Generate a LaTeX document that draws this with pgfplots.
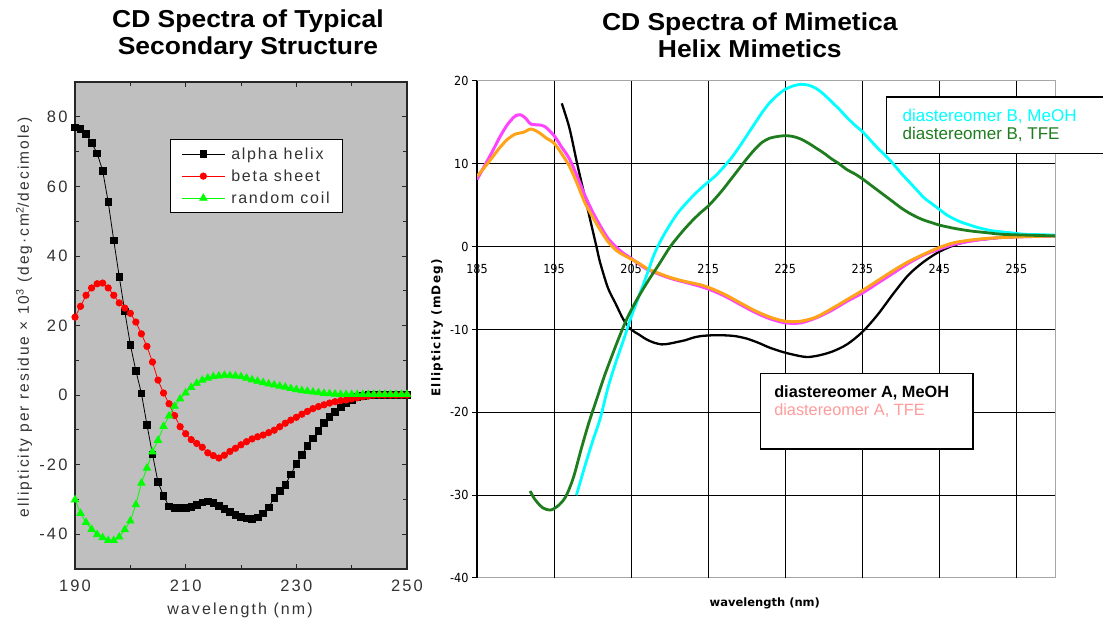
\documentclass[border=0pt]{standalone}
\usepackage{fontspec}
\usepackage{pgfplots}
\pgfplotsset{compat=1.18}
\setmainfont{Liberation Sans}
\newfontfamily\titlefont[FakeStretch=1.08]{Liberation Sans}
\newfontfamily\lfont[LetterSpace=13]{Liberation Sans}
\newfontfamily\lgfont[LetterSpace=11]{Liberation Sans}
\newfontfamily\rfont[FakeStretch=0.9]{DejaVu Sans}
\newfontfamily\rlabfont{DejaVu Sans}
\newfontfamily\rylabfont[LetterSpace=10]{DejaVu Sans}
\definecolor{bcyan}{HTML}{00FFFF}
\definecolor{bgreen}{HTML}{1E7D1E}
\definecolor{amag}{HTML}{FF44FF}
\definecolor{aorange}{HTML}{FFA31A}
\definecolor{apink}{HTML}{FF9B9B}
\definecolor{lgreen}{HTML}{00FF00}

\begin{document}
\begin{tikzpicture}
\useasboundingbox (0,0) rectangle (1103pt,621pt);

% ---------------- left chart ----------------
\begin{axis}[
  at={(75pt,52pt)}, anchor=south west,
  width=332pt, height=487pt, scale only axis,
  xmin=190, xmax=250, ymin=-50, ymax=90,
  xtick={190,210,230,250}, minor xtick={200,220,240},
  ytick={-40,-20,...,80}, minor ytick={-50,-30,...,90},
  tick align=inside, major tick length=5pt, minor tick length=4pt,
  every tick/.style={black!85, line width=0.8pt},
  axis line style={black!85, line width=1.3pt},
  axis background/.style={fill=black!25},
  /pgf/number format/assume math mode=true,
  tick label style={font=\lfont\fontsize{16.5}{19}\selectfont, text=black!80},
  xticklabel style={yshift=-7pt},
  yticklabel style={xshift=-4pt},
  title={CD Spectra of Typical\\Secondary Structure},
  title style={at={(rel axis cs:0.521,1.0842)}, anchor=center, align=center,
    font=\titlefont\bfseries\fontsize{24.5}{27}\selectfont},
  xlabel={wavelength (nm)},
  xlabel style={at={(rel axis cs:0.497,-0.084)}, anchor=center,
    font=\lfont\fontsize{16}{18}\selectfont, text=black!80},
  ylabel={ellipticity per residue × 10\textsuperscript{3} (deg·cm\textsuperscript{2}/decimole)},
  ylabel style={at={(rel axis cs:-0.1536,0.5164)}, anchor=center,
    font=\lfont\fontsize{15.5}{18}\selectfont, text=black!80},
  legend style={at={(rel axis cs:0.286,0.883)}, anchor=north west,
    draw=black, line width=1pt, fill=white,
    font=\lgfont\fontsize{16}{19}\selectfont, text=black!80,
    inner xsep=11pt, inner ysep=6pt, row sep=5pt},
  legend cell align=left,
  legend image code/.code={\draw[mark repeat=2,mark phase=2,#1]
    plot coordinates {(0pt,0pt) (21.5pt,0pt) (43pt,0pt)};
    \path (47pt,0pt);},
]
\addplot[black, line width=0.8pt, mark=square*, mark size=3.3pt] coordinates {
(190,77) (191,76.5) (192,75) (193,72.5) (194,69.5) (195,64.5) (196,55.5) (197,44.5)
(198,34) (199,24) (200,14.5) (201,7) (202,0.5) (203,-8.5) (204,-17) (205,-25)
(206,-29) (207,-32) (208,-32.5) (209,-32.5) (210,-32.5) (211,-32.2) (212,-31.5)
(213,-30.8) (214,-30.6) (215,-31) (216,-31.8) (217,-32.7) (218,-33.6) (219,-34.4)
(220,-35) (221,-35.5) (222,-35.6) (223,-35.2) (224,-34) (225,-32.3) (226,-29.5)
(227,-27.5) (228,-25.8) (229,-22.8) (230,-19.8) (231,-17.2) (232,-14.6) (233,-12.4)
(234,-10.3) (235,-8) (236,-6.2) (237,-4.8) (238,-3.5) (239,-2.3) (240,-1.4)
(241,-0.6) (242,-0.2) (243,0) (244,0) (245,0) (246,0) (247,0) (248,0) (249,0) (250,0)};
\addlegendentry{alpha helix}
\addplot[red, line width=0.8pt, mark=*, mark size=3.2pt] coordinates {
(190,22.4) (191,25.5) (192,28.7) (193,30.8) (194,32) (195,32.2) (196,30.8) (197,28.7)
(198,26.5) (199,25) (200,23.5) (201,21) (202,17.6) (203,14) (204,9.5) (205,4.3)
(206,0.6) (207,-2.5) (208,-5.9) (209,-9.1) (210,-11.1) (211,-12.8) (212,-13.9)
(213,-15) (214,-16.6) (215,-17.4) (216,-18.1) (217,-17.3) (218,-16.2) (219,-15.3)
(220,-14.3) (221,-13.4) (222,-12.6) (223,-12) (224,-11.5) (225,-10.8) (226,-10.1)
(227,-9.1) (228,-8.1) (229,-7.2) (230,-6.4) (231,-5.5) (232,-4.7) (233,-3.9)
(234,-3.3) (235,-2.8) (236,-2.3) (237,-1.9) (238,-1.6) (239,-1.4) (240,-1.1)
(241,-0.8) (242,-0.5) (243,-0.3) (244,0) (245,0) (246,0) (247,0) (248,0) (249,0) (250,0)};
\addlegendentry{beta sheet}
\addplot[lgreen, line width=0.8pt, mark=triangle*, mark size=4.2pt] coordinates {
(190,-30.1) (191,-34) (192,-36.6) (193,-38.6) (194,-40.1) (195,-41) (196,-41.8)
(197,-41.8) (198,-40.8) (199,-38.7) (200,-36.2) (201,-31.5) (202,-25.3) (203,-21)
(204,-16.3) (205,-13) (206,-9) (207,-6) (208,-3.2) (209,-1.1) (210,0.6) (211,2.2)
(212,3.4) (213,4.3) (214,4.9) (215,5.3) (216,5.5) (217,5.7) (218,5.6) (219,5.5)
(220,5.3) (221,4.9) (222,4.4) (223,4) (224,3.6) (225,3.2) (226,2.9) (227,2.6)
(228,2.3) (229,1.9) (230,1.6) (231,1.3) (232,1.1) (233,0.9) (234,0.7) (235,0.5)
(236,0.4) (237,0.3) (238,0.2) (239,0.2) (240,0.2) (241,0.2) (242,0.2) (243,0.2)
(244,0.2) (245,0.2) (246,0.2) (247,0.2) (248,0.2) (249,0.2) (250,0.2)};
\addlegendentry{random coil}
\end{axis}

% ---------------- right chart: grid, A curves ----------------
\begin{axis}[
  at={(477pt,43pt)}, anchor=south west,
  width=578pt, height=497pt, scale only axis,
  xmin=185, xmax=260, ymin=-40, ymax=20,
  axis x line=middle, axis y line=left,
  x axis line style={-, black, line width=1.1pt},
  y axis line style={-, black, line width=1.5pt},
  xtick={185,195,...,255},
  ytick={-30,-20,...,10}, extra y ticks={-40,20}, extra y tick style={grid=none},
  hide obscured x ticks=false, hide obscured y ticks=false,
  xmajorgrids, ymajorgrids, major grid style={black, line width=1.1pt},
  axis background/.style={draw=black!35, line width=1pt},
  ytick align=outside, major tick length=5pt,
  xtick style={draw=none}, ytick style={black, line width=1pt},
  /pgf/number format/assume math mode=true,
  tick label style={font=\rfont\fontsize{12.5}{14}\selectfont},
  xticklabel style={yshift=-12pt},
  title={CD Spectra of Mimetica\\Helix Mimetics},
  title style={at={(rel axis cs:0.472,1.0805)}, anchor=center, align=center,
    font=\titlefont\bfseries\fontsize{24.5}{27}\selectfont},
  xlabel={wavelength (nm)},
  xlabel style={at={(rel axis cs:0.498,-0.0503)}, anchor=center,
    font=\rlabfont\bfseries\fontsize{11.5}{14}\selectfont},
  ylabel={Ellipticity (mDeg)},
  ylabel style={at={(rel axis cs:-0.0692,0.503)}, anchor=center,
    font=\rylabfont\bfseries\fontsize{12}{14}\selectfont},
  legend style={at={(rel axis cs:0.4888,0.4125)}, anchor=north west,
    draw=black, line width=1.5pt, fill=white,
    font=\fontsize{16.3}{19}\selectfont,
    inner xsep=12pt, inner ysep=10pt, row sep=1pt},
  legend cell align=left,
  legend image code/.code={},
]
\addplot[black, line width=2.3pt, smooth] coordinates {
(196,17.3) (197,14.3) (198,10) (199,6) (200,2) (200.5,0) (201,-2) (202,-5)
(203,-6.9) (204,-8.8) (205,-10) (206,-10.6) (207,-11.2) (208,-11.6) (209,-11.8)
(210,-11.7) (211,-11.5) (212,-11.3) (213,-11) (214,-10.8) (215.5,-10.7) (217,-10.7)
(218.5,-10.8) (220,-11.1) (221.5,-11.6) (223,-12.2) (225,-12.8) (227.5,-13.3)
(229,-13.2) (231,-12.7) (233,-11.8) (235,-10.3) (237,-8.2) (239,-5.7) (241,-3.4)
(243,-1.8) (245,-0.6) (247,0.2) (249,0.7) (251,0.9) (253,1.1) (255,1.2) (260,1.3)};
\addlegendentry{\bfseries diastereomer A, MeOH\rule{10pt}{0pt}}
\addplot[amag, line width=3pt, smooth] coordinates {
(185,8.1) (186,9.8) (187,11.5) (188,13.3) (189,14.8) (190,15.8) (190.7,15.9)
(191.3,15.5) (192,14.8) (193,14.7) (193.8,14.5) (195,13.4) (196,12) (197,10.6)
(198,8.5) (199,6.2) (200,4.2) (201,2.5) (202,1) (203,0) (204,-0.8) (205,-1.4)
(206,-2.1) (207,-2.7) (208,-3.1) (210,-3.8) (212,-4.3) (214,-4.8) (215,-5.1)
(217,-5.9) (219,-6.9) (221,-7.9) (223,-8.7) (225,-9.2) (227,-9.2) (229,-8.6)
(231,-7.7) (233,-6.6) (235,-5.6) (237,-4.4) (239,-3.2) (241,-2) (243,-1)
(245,-0.3) (247,0.3) (250,0.8) (253,1.1) (256,1.2) (260,1.3)};
\addlegendentry{\textcolor{apink}{diastereomer A, TFE}}
\addplot[aorange, line width=3pt, smooth, forget plot] coordinates {
(185,8.5) (186,9.6) (187,10.8) (188,12) (189,13) (190,13.6) (191,13.8) (192,14.2)
(193,13.8) (194,13.1) (195,12.5) (196,11.2) (197,9.7) (198,7.6) (199,5.3) (200,3.6)
(201,2) (202,0.6) (203,-0.4) (204,-1) (205,-1.5) (206,-2) (207,-2.6) (208,-3)
(210,-3.7) (212,-4.2) (214,-4.6) (215,-4.9) (217,-5.7) (219,-6.7) (221,-7.7)
(223,-8.5) (225,-9) (227,-9) (229,-8.5) (231,-7.5) (233,-6.4) (235,-5.3) (237,-4.1)
(239,-2.9) (241,-1.8) (243,-0.9) (245,-0.1) (247,0.5) (250,0.9) (253,1.1) (256,1.2) (260,1.3)};
\addlegendimage{empty legend}
\addlegendentry{\strut}
\end{axis}

% ---------------- right chart: B curves ----------------
\begin{axis}[
  at={(477pt,43pt)}, anchor=south west,
  width=578pt, height=497pt, scale only axis,
  xmin=185, xmax=260, ymin=-40, ymax=20,
  hide axis,
  legend style={at={(rel axis cs:0.7076,0.9698)}, anchor=north west,
    draw=black, line width=1.5pt, fill=white,
    font=\fontsize{17}{20}\selectfont,
    inner xsep=14pt, inner ysep=10pt, row sep=1pt},
  legend cell align=left,
  legend image code/.code={},
]
\addplot[bcyan, line width=2.8pt, smooth] coordinates {
(197.9,-30) (199,-26.5) (200,-23.5) (201,-20.7) (202,-17) (203,-14) (204,-11.3)
(205,-8.5) (206,-6) (207,-3.5) (208,-0.9) (209,1) (210,2.6) (211,4) (212,5.1)
(213,6.1) (214,7) (215,7.8) (216,8.6) (217,9.6) (218,10.7) (219,12) (220,13.4)
(221,14.8) (222,16.2) (223,17.4) (224,18.3) (225,19) (226,19.4) (227,19.6)
(228,19.5) (229,19.1) (230,18.4) (231,17.5) (232,16.6) (233,15.6) (234,14.7)
(235,13.9) (236,12.9) (237,11.9) (238,11) (239,10) (240,8.9) (241,7.9) (242,6.9)
(243,5.9) (244,5.2) (245,4.5) (246,3.8) (247,3.3) (248,2.9) (249,2.6) (250,2.3)
(252,1.9) (254,1.7) (256,1.5) (258,1.45) (260,1.4)};
\addlegendentry{\textcolor{bcyan}{diastereomer B, MeOH}\rule{60pt}{0pt}}
\addplot[bgreen, line width=2.8pt, smooth] coordinates {
(191.9,-29.5) (192.5,-30.5) (193.5,-31.5) (194.5,-31.8) (195.5,-31.3) (196.5,-30.2)
(197.5,-27.9) (198.5,-24.5) (199.5,-21.3) (200.5,-18.5) (201.5,-15.7) (202.5,-13.2)
(203.5,-10.8) (204.5,-8.6) (205.5,-6.8) (206.5,-5.2) (207.5,-3.7) (208.5,-2.3)
(210,-0.1) (211,1.1) (212,2.2) (213,3.2) (214,4.1) (215,4.9) (216,5.9) (217,7)
(218,8.2) (219,9.4) (220,10.6) (221,11.7) (222,12.6) (223,13.1) (224,13.3)
(225,13.4) (226,13.3) (227,13) (228,12.5) (229,11.9) (230,11.3) (231,10.6)
(232,10) (233,9.3) (234,8.8) (235,8.2) (236,7.5) (237,6.8) (238,6.1) (239,5.4)
(240,4.7) (241,4.1) (242,3.6) (243,3.2) (244,2.9) (245,2.6) (247,2.2) (249,1.9)
(251,1.7) (253,1.5) (256,1.4) (260,1.3)};
\addlegendentry{\textcolor{bgreen}{diastereomer B, TFE}}
\end{axis}
\end{tikzpicture}
\end{document}
